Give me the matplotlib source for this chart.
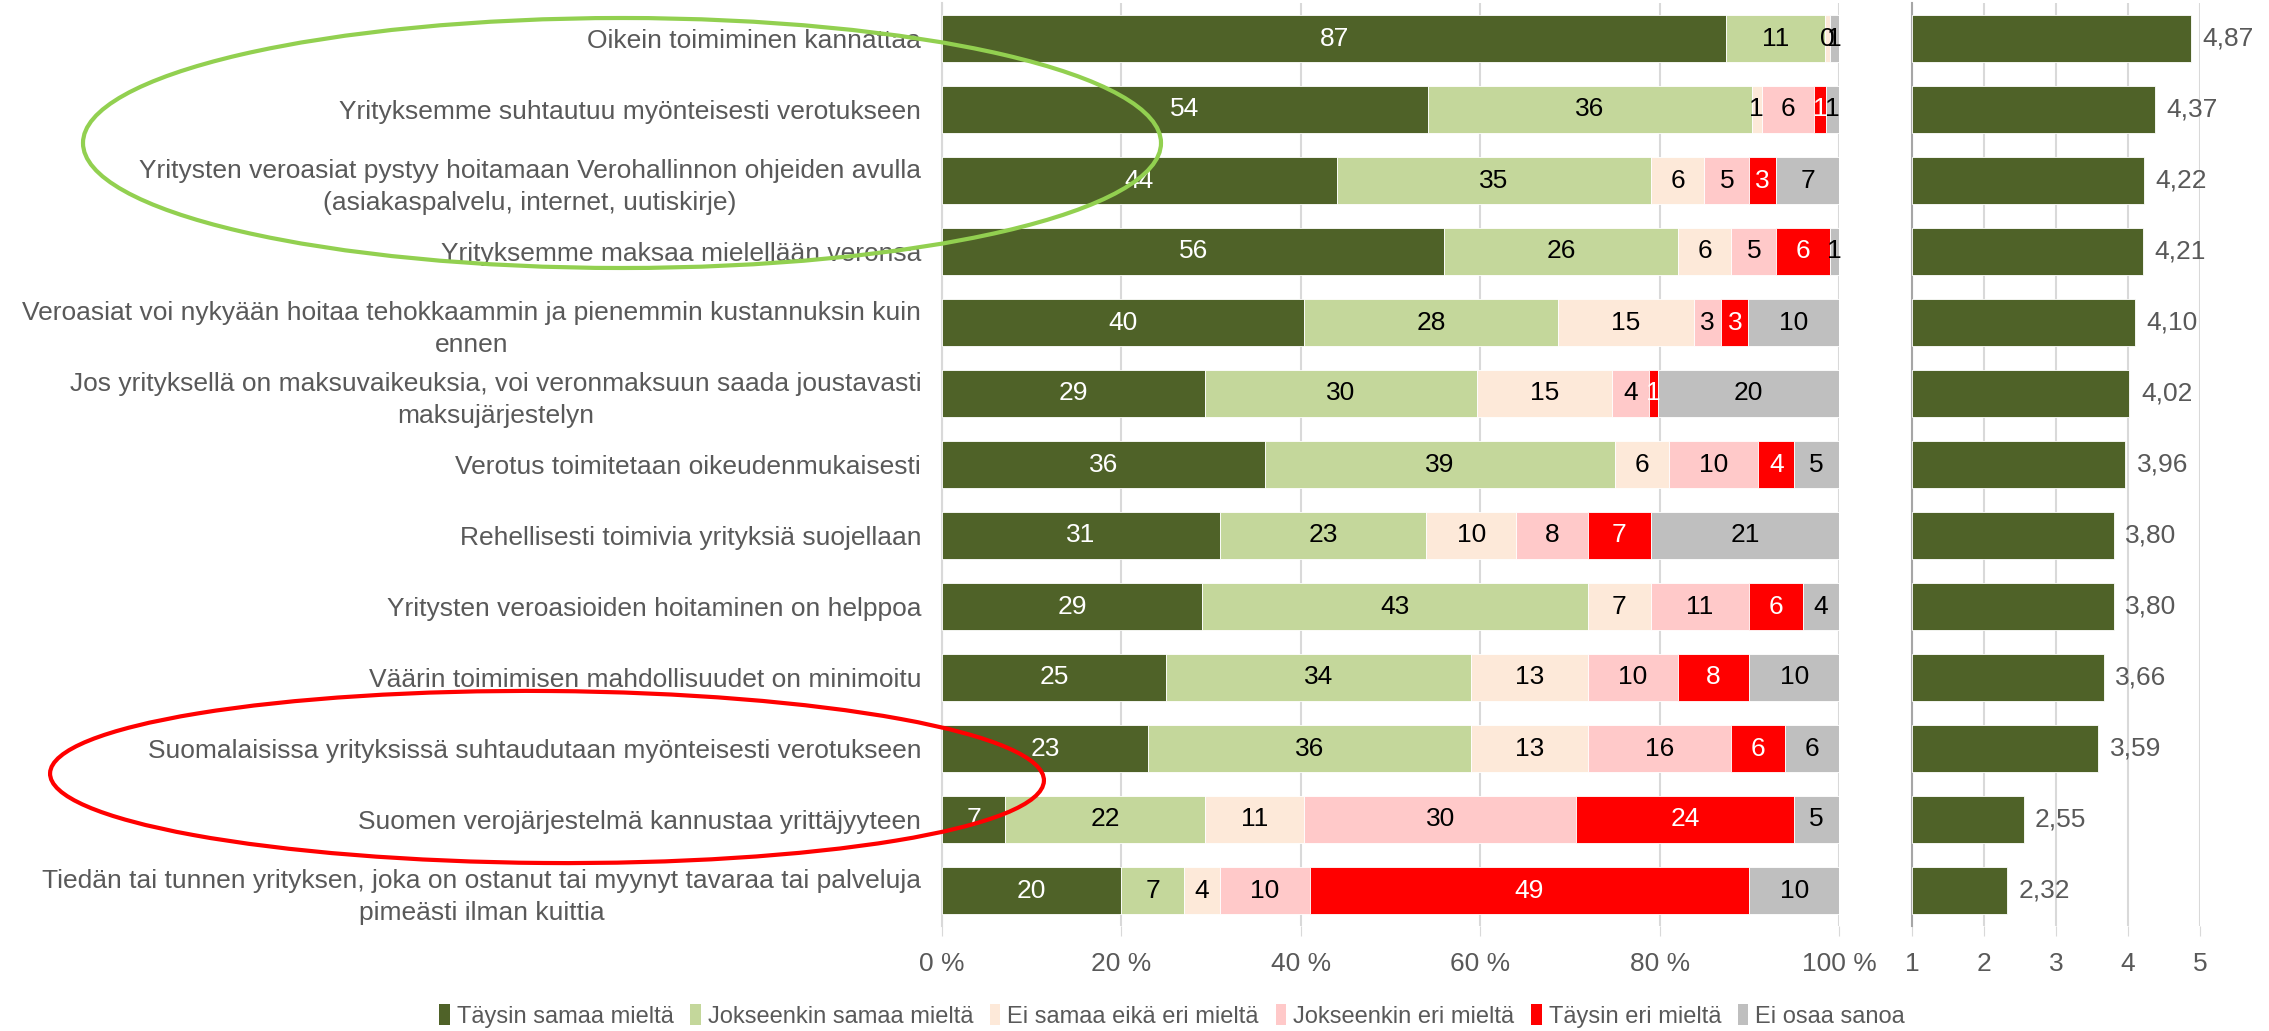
import numpy as np
import matplotlib
matplotlib.use("Agg")
import matplotlib.pyplot as plt
from matplotlib.patches import Ellipse, Patch

plt.rcParams['font.family'] = ['Liberation Sans', 'DejaVu Sans']

# Data
statements = [
    "Oikein toimiminen kannattaa",
    "Yrityksemme suhtautuu myönteisesti verotukseen",
    "Yritysten veroasiat pystyy hoitamaan Verohallinnon ohjeiden avulla\n(asiakaspalvelu, internet, uutiskirje)",
    "Yrityksemme maksaa mielellään veronsa",
    "Veroasiat voi nykyään hoitaa tehokkaammin ja pienemmin kustannuksin kuin\nennen",
    "Jos yrityksellä on maksuvaikeuksia, voi veronmaksuun saada joustavasti\nmaksujärjestelyn",
    "Verotus toimitetaan oikeudenmukaisesti",
    "Rehellisesti toimivia yrityksiä suojellaan",
    "Yritysten veroasioiden hoitaminen on helppoa",
    "Väärin toimimisen mahdollisuudet on minimoitu",
    "Suomalaisissa yrityksissä suhtaudutaan myönteisesti verotukseen",
    "Suomen verojärjestelmä kannustaa yrittäjyyteen",
    "Tiedän tai tunnen yrityksen, joka on ostanut tai myynyt tavaraa tai palveluja\npimeästi ilman kuittia",
]

categories = ["Täysin samaa mieltä", "Jokseenkin samaa mieltä", "Ei samaa eikä eri mieltä",
              "Jokseenkin eri mieltä", "Täysin eri mieltä", "Ei osaa sanoa"]

taysin_samaa = [87, 54, 44, 56, 40, 29, 36, 31, 29, 25, 23, 7, 20]
jokseenkin_samaa = [11, 36, 35, 26, 28, 30, 39, 23, 43, 34, 36, 22, 7]
ei_samaa_eika_eri = [0.5, 1.1, 6, 6, 15, 15, 6, 10, 7, 13, 13, 11, 4]
jokseenkin_eri = [0, 5.8, 5, 5, 3, 4, 10, 8, 11, 10, 16, 30, 10]
taysin_eri = [0, 1.4, 3, 6, 3, 1, 4, 7, 6, 8, 6, 24, 49]
ei_osaa = [1, 1.4, 7, 1, 10, 20, 5, 21, 4, 10, 6, 5, 10]

means = [4.87, 4.37, 4.22, 4.21, 4.10, 4.02, 3.96, 3.80, 3.80, 3.66, 3.59, 2.55, 2.32]

colors = ["#4F6228", "#C4D79B", "#FDE9D9", "#FFC9C9", "#FF0000", "#BFBFBF"]
text_colors = ["white", "black", "black", "black", "white", "black"]

series = np.array([taysin_samaa, jokseenkin_samaa, ei_samaa_eika_eri,
                   jokseenkin_eri, taysin_eri, ei_osaa], dtype=float)
shares = series / series.sum(axis=0) * 100

W, H = 2269, 1031
fig = plt.figure(figsize=(W / 100, H / 100), dpi=100)

def px_rect(x0, y0, x1, y1):
    return [x0 / W, 1 - y1 / H, (x1 - x0) / W, (y1 - y0) / H]

gray_txt = "#595959"
grid_c = "#D9D9D9"
fs = 19

ax = fig.add_axes(px_rect(942, 3, 1839, 926))
ax2 = fig.add_axes(px_rect(1912, 3, 2200, 926))

y = np.arange(len(statements))
left = np.zeros(len(statements))
for i in range(len(categories)):
    ax.barh(y, shares[i], left=left, height=0.67, color=colors[i],
            edgecolor="white", linewidth=0.6, label=categories[i], zorder=3)
    for j in range(len(statements)):
        v = series[i, j]
        if v > 0:
            ax.text(left[j] + shares[i, j] / 2, y[j], f"{v:.0f}", ha="center",
                    va="center", color=text_colors[i], fontsize=fs, zorder=4)
    left += shares[i]

ax.set_xlim(0, 100)
ax.set_ylim(len(statements) - 0.5, -0.5)
ax.set_xticks(np.arange(0, 101, 20))
ax.set_xticklabels([f"{t} %" for t in range(0, 101, 20)])
ax.set_yticks(y)
ax.set_yticklabels(statements, multialignment="center", linespacing=1.4)
ax.tick_params(axis="y", length=0, pad=15, labelsize=fs, labelcolor=gray_txt)
ax.tick_params(axis="x", length=7, color=grid_c, pad=12, labelsize=fs, labelcolor=gray_txt)
ax.grid(axis="x", color=grid_c, linewidth=1.5, zorder=0)
for s in ["top", "right", "bottom"]:
    ax.spines[s].set_visible(False)
ax.spines["left"].set_color(grid_c)
ax.spines["left"].set_linewidth(1.5)

# Means panel
ax2.barh(y, np.array(means) - 1, left=1, height=0.67, color="#4F6228",
         edgecolor="white", linewidth=0.6, zorder=3)
for j, m in enumerate(means):
    ax2.text(m + 0.16, y[j], f"{m:.2f}".replace(".", ","), ha="left", va="center",
             color=gray_txt, fontsize=fs, clip_on=False)
ax2.set_xlim(1, 5)
ax2.set_ylim(len(statements) - 0.5, -0.5)
ax2.set_xticks([1, 2, 3, 4, 5])
ax2.set_yticks([])
ax2.tick_params(axis="x", length=7, color=grid_c, pad=12, labelsize=fs, labelcolor=gray_txt)
ax2.grid(axis="x", color=grid_c, linewidth=1.5, zorder=0)
for s in ["top", "right", "bottom"]:
    ax2.spines[s].set_visible(False)
ax2.spines["left"].set_color("#A6A6A6")
ax2.spines["left"].set_linewidth(1.5)

# Legend
handles = [Patch(facecolor=c, label=l) for c, l in zip(colors, categories)]
fig.legend(handles=handles, loc="center", bbox_to_anchor=(1172 / W, 1 - 1016 / H),
           ncol=6, frameon=False, fontsize=17, handlelength=0.45, handleheight=1.0,
           handletextpad=0.3, columnspacing=0.7, labelcolor=gray_txt)

# Highlight ellipses
fig.patches.append(Ellipse((622 / W, 1 - 143 / H), 1078 / W, 250 / H,
                           transform=fig.transFigure, fill=False,
                           edgecolor="#92D050", linewidth=3, zorder=10))
fig.patches.append(Ellipse((547 / W, 1 - 777 / H), 994 / W, 172 / H, angle=-1,
                           transform=fig.transFigure, fill=False,
                           edgecolor="#FF0000", linewidth=3, zorder=10))

fig.savefig("out.png", dpi=100)
